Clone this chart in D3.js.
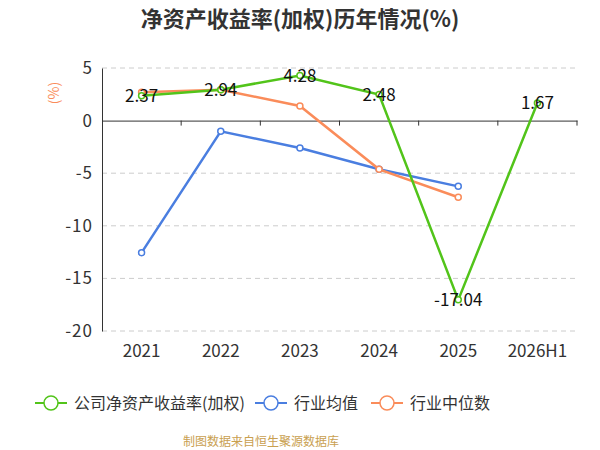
<!DOCTYPE html>
<html lang="zh">
<head>
<meta charset="utf-8">
<title>净资产收益率(加权)历年情况(%)</title>
<script src="https://cdn.jsdelivr.net/npm/d3@7"></script>
<style>
  body { margin: 0; background: #fff; }
  text { font-family: "Noto Sans CJK SC", "Noto Sans", sans-serif; }
</style>
</head>
<body>
<script>
// data
var years = ["2021", "2022", "2023", "2024", "2025", "2026H1"];
var company = [2.37, 2.94, 4.28, 2.48, -17.04, 1.67];
var industryMean = [-12.55, -1.02, -2.6, -4.62, -6.25];
var industryMedian = [2.69, 2.94, 1.39, -4.63, -7.29];
var yTicks = [5, 0, -5, -10, -15, -20];
var seriesNames = ["公司净资产收益率(加权)", "行业均值", "行业中位数"];
var colors = ["#52c41a", "#4a7ee0", "#fa8c5a"];

var w = 600, h = 450;
var svg = d3.select("body").append("svg")
  .attr("width", w)
  .attr("height", h);

// title
svg.append("text")
  .attr("x", 300).attr("y", 27)
  .attr("text-anchor", "middle")
  .attr("font-size", 22).attr("font-weight", "bold")
  .attr("fill", "#333")
  .text("净资产收益率(加权)历年情况(%)");

// plot area
var pLeft = 102, pRight = 577, pTop = 68, pBottom = 331;

var x = d3.scaleBand().domain(years).range([pLeft, pRight]);
var y = d3.scaleLinear().domain([-20, 5]).range([pBottom, pTop]);

// grid lines
svg.selectAll("line.grid")
  .data(yTicks.filter(function(d) { return d != 0; }))
  .enter().append("line")
  .attr("class", "grid")
  .attr("x1", pLeft).attr("x2", pRight)
  .attr("y1", function(d) { return y(d); })
  .attr("y2", function(d) { return y(d); })
  .attr("stroke", "#ccc")
  .attr("stroke-dasharray", "5,4");

// y axis
var yAxis = svg.append("g")
  .attr("transform", "translate(" + pLeft + ",0)")
  .call(d3.axisLeft(y).tickValues(yTicks).tickSize(0).tickPadding(9)
    .tickFormat(function(d) { return String(d); }));
yAxis.select(".domain").attr("stroke", "#333");
yAxis.selectAll("text").attr("font-size", 17).attr("fill", "#333")
  .attr("letter-spacing", 1);

// x axis at zero
var xAxis = svg.append("g")
  .attr("transform", "translate(0," + y(0) + ")")
  .call(d3.axisBottom(x).tickSizeOuter(0).tickSizeInner(5).tickFormat(""));
xAxis.select(".domain").attr("stroke", "#333");
xAxis.selectAll("line").attr("stroke", "#333");
// move ticks to band edges
xAxis.selectAll(".tick").attr("transform", function(d) {
  return "translate(" + (x(d) + x.bandwidth()) + ",0)";
});

// x labels at bottom
svg.selectAll("text.xlab")
  .data(years)
  .enter().append("text")
  .attr("class", "xlab")
  .attr("x", function(d) { return x(d) + x.bandwidth() / 2; })
  .attr("y", 357)
  .attr("text-anchor", "middle")
  .attr("font-size", 17).attr("fill", "#333")
  .text(function(d) { return d; });

// unit label
svg.append("text")
  .attr("transform", "translate(59,93) rotate(-90)")
  .attr("text-anchor", "middle")
  .attr("font-size", 14).attr("fill", colors[2])
  .text("(%)");

var line = d3.line()
  .x(function(d, i) { return x(years[i]) + x.bandwidth() / 2; })
  .y(function(d) { return y(d); });

var allSeries = [company, industryMean, industryMedian];

// draw lines, median under company
[1, 2, 0].forEach(function(k) {
  var vals = allSeries[k];
  svg.append("path")
    .datum(vals)
    .attr("d", line)
    .attr("fill", "none")
    .attr("stroke", colors[k])
    .attr("stroke-width", 2.5);
  svg.selectAll("circle.s" + k)
    .data(vals)
    .enter().append("circle")
    .attr("class", "s" + k)
    .attr("cx", function(d, i) { return x(years[i]) + x.bandwidth() / 2; })
    .attr("cy", function(d) { return y(d); })
    .attr("r", 3)
    .attr("fill", "#fff")
    .attr("stroke", colors[k])
    .attr("stroke-width", 1.5);
});

// data labels for company
svg.selectAll("text.lab")
  .data(company)
  .enter().append("text")
  .attr("class", "lab")
  .attr("x", function(d, i) { return x(years[i]) + x.bandwidth() / 2; })
  .attr("y", function(d) { return y(d) + 6; })
  .attr("text-anchor", "middle")
  .attr("font-size", 17).attr("fill", "#111")
  .text(function(d) { return d.toFixed(2); });

// legend
var legendX = [35, 255, 371];
seriesNames.forEach(function(name, k) {
  var g = svg.append("g").attr("transform", "translate(" + legendX[k] + ",403)");
  g.append("line").attr("x1", 0).attr("x2", 32)
    .attr("stroke", colors[k]).attr("stroke-width", 2);
  g.append("circle").attr("cx", 16).attr("r", 7)
    .attr("fill", "#fff").attr("stroke", colors[k]).attr("stroke-width", 1.5);
  g.append("text").attr("x", 39).attr("y", 6)
    .attr("font-size", 16).attr("fill", "#333")
    .text(name);
});

// footer
svg.append("text")
  .attr("x", 261).attr("y", 446)
  .attr("text-anchor", "middle")
  .attr("font-size", 12).attr("fill", "#c9a050")
  .text("制图数据来自恒生聚源数据库");
</script>
</body>
</html>
